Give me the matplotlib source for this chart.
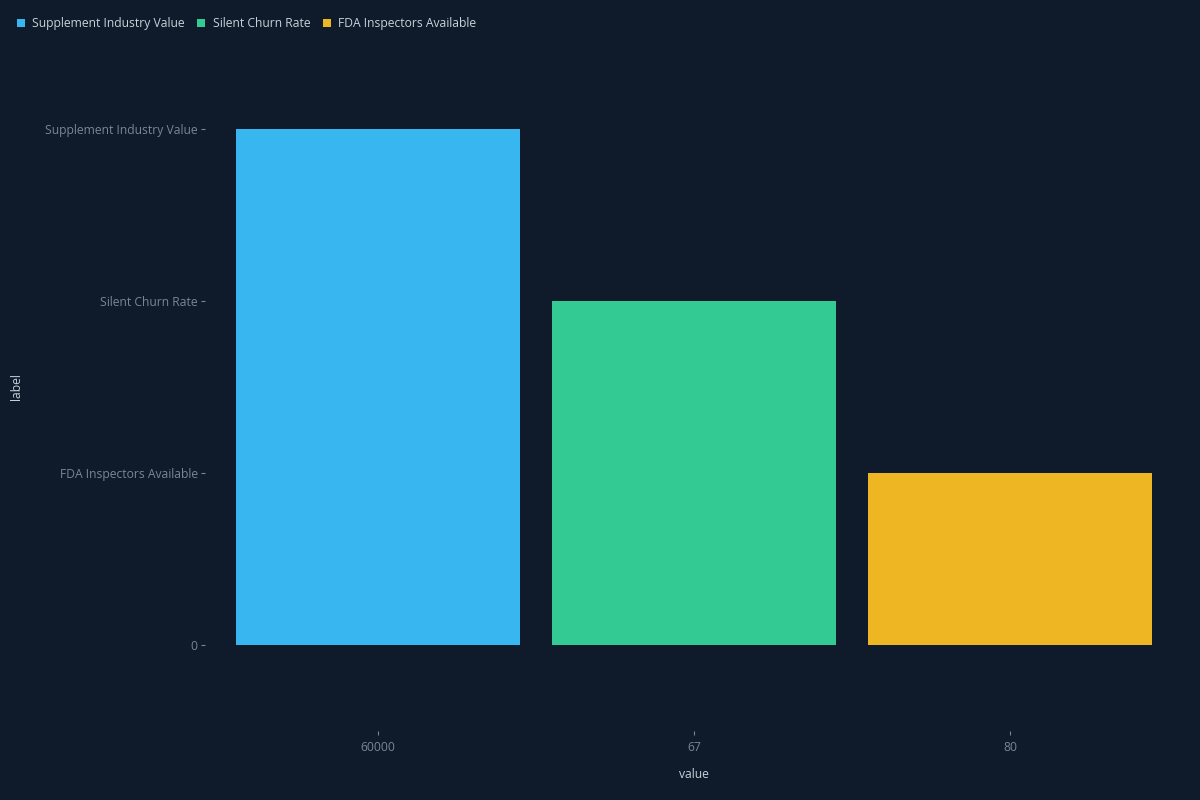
import matplotlib.pyplot as plt
from matplotlib.lines import Line2D

plt.rcParams['font.family'] = ['Open Sans', 'DejaVu Sans']

# data
values = ['60000', '67', '80']
labels = ['Supplement Industry Value', 'Silent Churn Rate', 'FDA Inspectors Available']
y_levels = ['0', 'FDA Inspectors Available', 'Silent Churn Rate', 'Supplement Industry Value']
colors = ['#38b6f0', '#33ca93', '#eeb623']

bg = '#0f1b2a'
tick_col = '#7b8594'
lab_col = '#c9d0d9'

fig = plt.figure(figsize=(12, 8), dpi=100, facecolor=bg)
ax = fig.add_axes([220 / 1200, 1 - 731 / 800, 948 / 1200, 688 / 800])
ax.set_facecolor(bg)

xpos = list(range(len(values)))
heights = [y_levels.index(l) for l in labels]
ax.bar(xpos, heights, width=0.9, color=colors, linewidth=0)

ax.set_xlim(-0.5, len(values) - 0.5)
ax.set_ylim(-0.5, len(y_levels) - 0.5)
ax.set_xticks(xpos)
ax.set_xticklabels(values)
ax.set_yticks(range(len(y_levels)))
ax.set_yticklabels(y_levels)

for s in ax.spines.values():
    s.set_visible(False)
ax.spines['left'].set_position(('outward', 11))
ax.spines['bottom'].set_position(('outward', 0))

ax.tick_params(axis='y', colors=tick_col, labelsize=8.7, length=3, width=0.8, pad=2)
ax.tick_params(axis='x', colors=tick_col, labelsize=8.7, length=3, width=0.8, pad=4)

ax.set_xlabel('value', color=lab_col, fontsize=8.7, labelpad=12)
ax.set_ylabel('label', color=lab_col, fontsize=8.7)
ax.yaxis.set_label_coords(-197 / 948, 0.5)
ax.xaxis.set_label_coords(0.5, -37 / 688)

handles = [Line2D([], [], marker='s', linestyle='none', markersize=6,
                  markerfacecolor=c, markeredgewidth=0) for c in colors]
leg = fig.legend(handles, labels, loc='upper left', bbox_to_anchor=(5 / 1200, 1 - 6 / 800),
                 ncol=3, frameon=False, fontsize=8.7, handlelength=0.8,
                 handletextpad=0.55, columnspacing=0.95, labelcolor=lab_col)

fig.savefig('out.png', dpi=100, facecolor=bg)
